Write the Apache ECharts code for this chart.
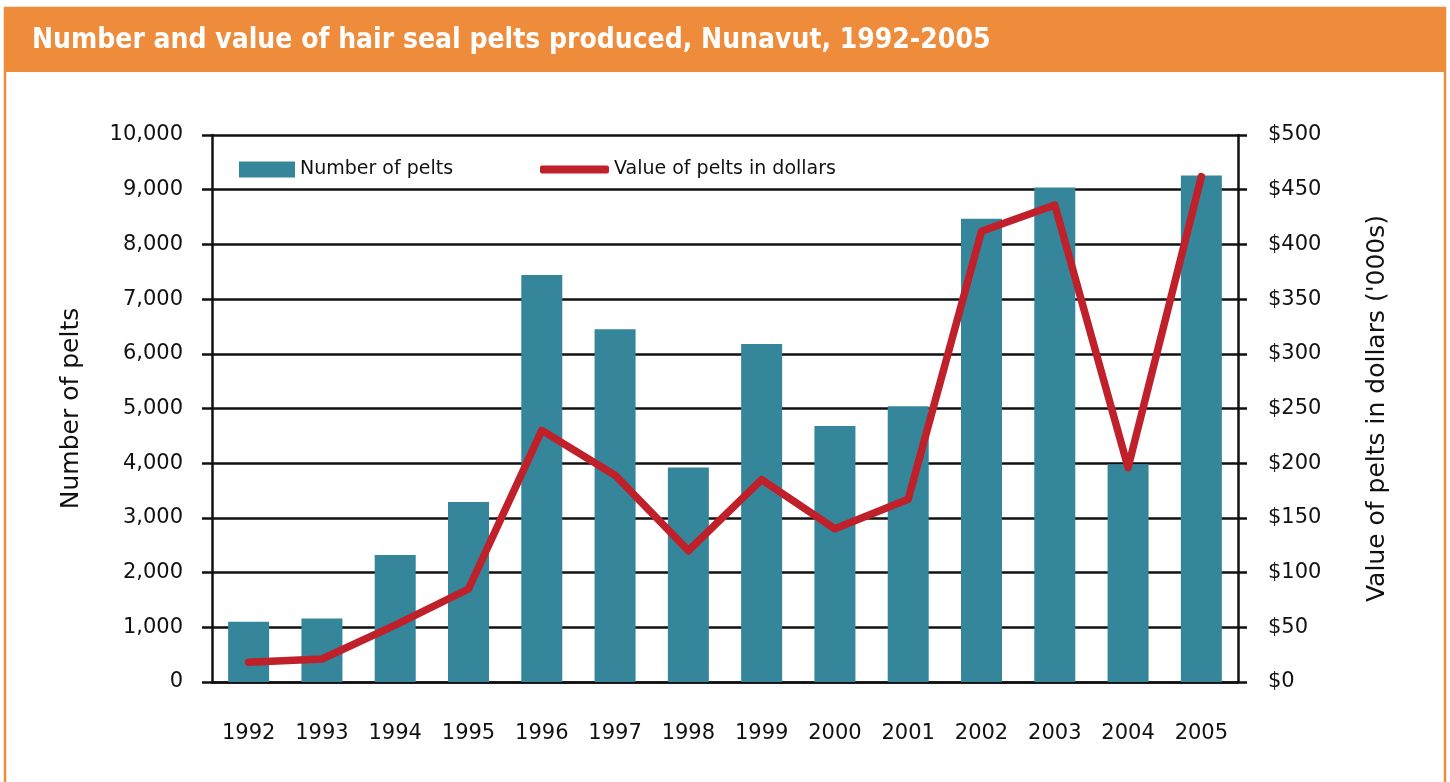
<!DOCTYPE html>
<html>
<head>
<meta charset="utf-8">
<title>Hair seal pelts, Nunavut</title>
<script src="https://cdn.jsdelivr.net/npm/echarts@6/dist/echarts.min.js"></script>
<style>
    html, body { margin: 0; padding: 0; background: #fff; }
    #main { width: 1450px; height: 782px; }
</style>
</head>
<body>
<div id="main"></div>
<script>
var years = ['1992', '1993', '1994', '1995', '1996', '1997', '1998', '1999', '2000', '2001', '2002', '2003', '2004', '2005'];
// number of pelts (left axis)
var pelts = [1100, 1160, 2320, 3290, 7440, 6450, 3920, 6180, 4680, 5040, 8470, 9040, 3980, 9260];
// value of pelts, thousands of dollars (right axis)
var values = [18, 21, 52, 85, 230, 189, 120, 185, 140, 167, 412, 436, 196, 462];

var orange = '#ee8c3b';
var teal = '#35859b';
var red = '#c0202a';
var font = 'DejaVu Sans';

var myChart = echarts.init(document.getElementById('main'));

var option = {
    backgroundColor: '#fff',
    animation: false,
    graphic: [
        {   // outer frame
            type: 'rect',
            shape: { x: 5, y: 8, width: 1440, height: 800 },
            style: { fill: 'none', stroke: orange, lineWidth: 2.5 },
            silent: true
        },
        {   // header bar
            type: 'rect',
            shape: { x: 4, y: 8, width: 1442, height: 64 },
            style: { fill: orange },
            silent: true
        },
        {
            type: 'text',
            x: 32,
            y: 41,
            style: {
                text: 'Number and value of hair seal pelts produced, Nunavut, 1992-2005',
                fill: '#fff',
                font: 'bold 28px "DejaVu Sans Condensed", sans-serif',
                verticalAlign: 'middle'
            },
            silent: true
        }
    ],
    legend: [
        {
            left: 234,
            top: 155,
            itemWidth: 56,
            itemHeight: 16,
            data: [{ name: 'Number of pelts', icon: 'rect' }],
            textStyle: { fontFamily: font, fontSize: 19, color: '#111' }
        },
        {
            left: 535,
            top: 155,
            itemWidth: 69,
            itemHeight: 8,
            data: [{ name: 'Value of pelts in dollars', icon: 'roundRect' }],
            textStyle: { fontFamily: font, fontSize: 19, color: '#111' }
        }
    ],
    grid: {
        left: 212,
        right: 212,
        top: 135,
        height: 547
    },
    xAxis: {
        type: 'category',
        data: years,
        axisLine: { lineStyle: { color: '#111', width: 2.5 } },
        axisTick: { length: 12, lineStyle: { color: '#111', width: 2.5 } },
        axisLabel: { margin: 41, fontFamily: font, fontSize: 21, color: '#111' }
    },
    yAxis: [
        {
            type: 'value',
            min: 0,
            max: 10000,
            interval: 1000,
            name: 'Number of pelts',
            nameLocation: 'middle',
            nameGap: 128,
            nameTextStyle: { fontFamily: font, fontSize: 25, color: '#111' },
            axisLine: { show: true, lineStyle: { color: '#111', width: 2.5 } },
            axisTick: { show: true, length: 10, lineStyle: { color: '#111', width: 2.5 } },
            axisLabel: {
                margin: 29,
                fontFamily: font,
                fontSize: 21,
                color: '#111',
                formatter: function (v) { return v.toLocaleString('en-US'); }
            },
            splitLine: { show: true, lineStyle: { color: '#111', width: 2.5 } }
        },
        {
            type: 'value',
            min: 0,
            max: 500,
            interval: 50,
            name: "Value of pelts in dollars ('000s)",
            nameLocation: 'middle',
            nameGap: 127,
            nameTextStyle: { fontFamily: font, fontSize: 25, color: '#111' },
            axisLine: { show: true, lineStyle: { color: '#111', width: 2.5 } },
            axisTick: { show: true, length: 9, lineStyle: { color: '#111', width: 2.5 } },
            axisLabel: {
                margin: 30,
                fontFamily: font,
                fontSize: 21,
                color: '#111',
                formatter: function (v) { return '$' + v; }
            },
            splitLine: { show: false }
        }
    ],
    series: [
        {
            name: 'Number of pelts',
            type: 'bar',
            data: pelts,
            barWidth: 41,
            itemStyle: { color: teal }
        },
        {
            name: 'Value of pelts in dollars',
            type: 'line',
            yAxisIndex: 1,
            data: values,
            symbol: 'none',
            itemStyle: { color: red },
            lineStyle: { color: red, width: 7.5, cap: 'round', join: 'round' },
            z: 5
        }
    ]
};

myChart.setOption(option);
</script>
</body>
</html>
